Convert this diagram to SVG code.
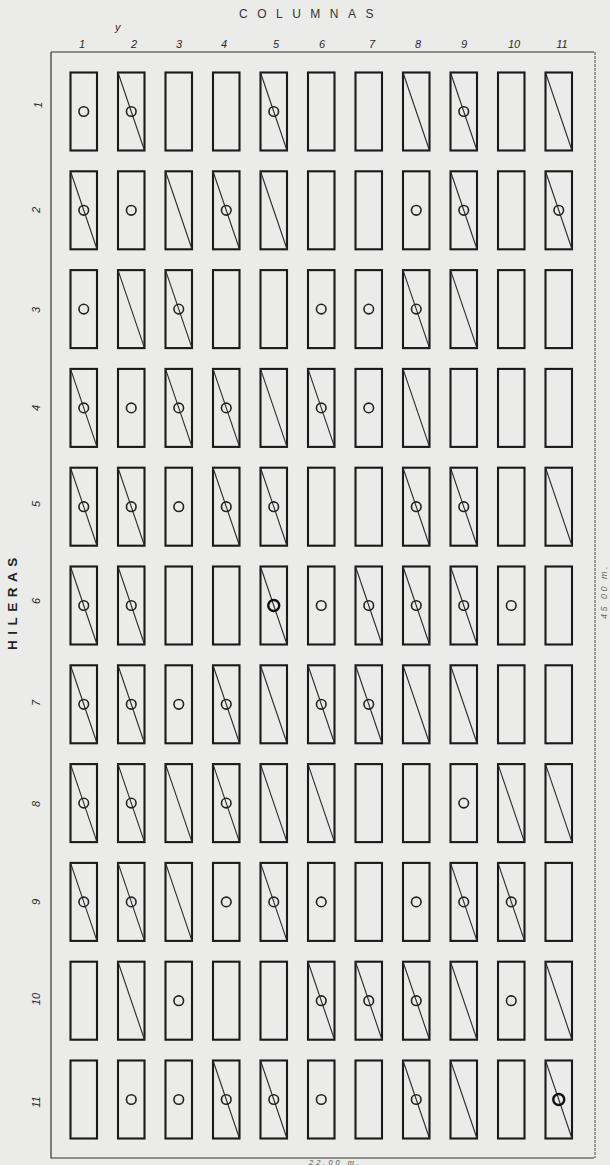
<svg xmlns="http://www.w3.org/2000/svg" xmlns:xlink="http://www.w3.org/1999/xlink" width="610" height="1165" viewBox="0 0 610 1165">
<style>
.box{fill:none;stroke:#1a1a1a;stroke-width:2.1}
.diag{stroke:#2a2a2a;stroke-width:1.1}
.dot{fill:none;stroke:#222;stroke-width:1.6}
.dotb{fill:none;stroke:#111;stroke-width:2.4}
.frame{fill:none;stroke:#333;stroke-width:1.2}
.num{font-family:"Liberation Sans",Arial,sans-serif;font-style:italic;font-size:11px;fill:#2a2a2a}
.title{font-family:"Liberation Sans",Arial,sans-serif;font-size:12px;fill:#333;letter-spacing:9.5px}
.side{font-family:"Liberation Sans",Arial,sans-serif;font-size:13.5px;font-weight:bold;fill:#222;letter-spacing:5.5px}
.dim{font-family:"Liberation Sans",Arial,sans-serif;font-style:italic;font-size:9px;fill:#666;letter-spacing:2.5px}
.dimb{font-family:"Liberation Sans",Arial,sans-serif;font-style:italic;font-size:7.5px;fill:#555;letter-spacing:3px}
</style>
<defs>
<rect id="box" class="box" x="0" y="0" width="26.5" height="78"/>
<line id="diag" class="diag" x1="0" y1="0" x2="26.5" y2="78"/>
<circle id="dot" class="dot" cx="13.25" cy="39" r="4.8"/>
<circle id="dotb" class="dotb" cx="13.25" cy="39" r="5.5"/>
</defs>
<rect x="0" y="0" width="610" height="1165" fill="#ebebea"/>
<g id="labels">
<text class="title" x="239" y="18">COLUMNAS</text>
<text class="num" x="115" y="31" font-size="8">y</text>
<text class="num" x="82" y="48" text-anchor="middle">1</text>
<text class="num" x="134" y="48" text-anchor="middle">2</text>
<text class="num" x="179" y="48" text-anchor="middle">3</text>
<text class="num" x="224" y="48" text-anchor="middle">4</text>
<text class="num" x="276" y="48" text-anchor="middle">5</text>
<text class="num" x="322" y="48" text-anchor="middle">6</text>
<text class="num" x="372" y="48" text-anchor="middle">7</text>
<text class="num" x="418" y="48" text-anchor="middle">8</text>
<text class="num" x="464" y="48" text-anchor="middle">9</text>
<text class="num" x="514" y="48" text-anchor="middle">10</text>
<text class="num" x="562" y="48" text-anchor="middle">11</text>
<text class="side" transform="translate(17,650) rotate(-90)">HILERAS</text>
<text class="num" text-anchor="middle" transform="translate(42,105) rotate(-90)">1</text>
<text class="num" text-anchor="middle" transform="translate(40,210) rotate(-90)">2</text>
<text class="num" text-anchor="middle" transform="translate(40,310) rotate(-90)">3</text>
<text class="num" text-anchor="middle" transform="translate(40,408) rotate(-90)">4</text>
<text class="num" text-anchor="middle" transform="translate(40,504) rotate(-90)">5</text>
<text class="num" text-anchor="middle" transform="translate(40,601) rotate(-90)">6</text>
<text class="num" text-anchor="middle" transform="translate(40,703) rotate(-90)">7</text>
<text class="num" text-anchor="middle" transform="translate(40,804) rotate(-90)">8</text>
<text class="num" text-anchor="middle" transform="translate(40,902) rotate(-90)">9</text>
<text class="num" text-anchor="middle" transform="translate(40,999) rotate(-90)">10</text>
<text class="num" text-anchor="middle" transform="translate(40,1102) rotate(-90)">11</text>
<text class="dim" transform="translate(607,619) rotate(-90)">45 00 m.</text>
<text class="dimb" x="309" y="1164.5">22.00 m.</text>
</g>
<g id="frame">
<path class="frame" d="M51,52 H594 M51,52 V1158 H594"/>
<line x1="595" y1="52" x2="595" y2="1158" stroke="#444" stroke-width="1" stroke-dasharray="3 1"/>
</g>
<g id="r1c1" transform="translate(70.5,72.5)"><use xlink:href="#box"/><use xlink:href="#dot"/></g>
<g id="r1c2" transform="translate(118,72.5)"><use xlink:href="#box"/><use xlink:href="#diag"/><use xlink:href="#dot"/></g>
<g id="r1c3" transform="translate(165.5,72.5)"><use xlink:href="#box"/></g>
<g id="r1c4" transform="translate(213,72.5)"><use xlink:href="#box"/></g>
<g id="r1c5" transform="translate(260.5,72.5)"><use xlink:href="#box"/><use xlink:href="#diag"/><use xlink:href="#dot"/></g>
<g id="r1c6" transform="translate(308,72.5)"><use xlink:href="#box"/></g>
<g id="r1c7" transform="translate(355.5,72.5)"><use xlink:href="#box"/></g>
<g id="r1c8" transform="translate(403,72.5)"><use xlink:href="#box"/><use xlink:href="#diag"/></g>
<g id="r1c9" transform="translate(450.5,72.5)"><use xlink:href="#box"/><use xlink:href="#diag"/><use xlink:href="#dot"/></g>
<g id="r1c10" transform="translate(498,72.5)"><use xlink:href="#box"/></g>
<g id="r1c11" transform="translate(545.5,72.5)"><use xlink:href="#box"/><use xlink:href="#diag"/></g>
<g id="r2c1" transform="translate(70.5,171.3)"><use xlink:href="#box"/><use xlink:href="#diag"/><use xlink:href="#dot"/></g>
<g id="r2c2" transform="translate(118,171.3)"><use xlink:href="#box"/><use xlink:href="#dot"/></g>
<g id="r2c3" transform="translate(165.5,171.3)"><use xlink:href="#box"/><use xlink:href="#diag"/></g>
<g id="r2c4" transform="translate(213,171.3)"><use xlink:href="#box"/><use xlink:href="#diag"/><use xlink:href="#dot"/></g>
<g id="r2c5" transform="translate(260.5,171.3)"><use xlink:href="#box"/><use xlink:href="#diag"/></g>
<g id="r2c6" transform="translate(308,171.3)"><use xlink:href="#box"/></g>
<g id="r2c7" transform="translate(355.5,171.3)"><use xlink:href="#box"/></g>
<g id="r2c8" transform="translate(403,171.3)"><use xlink:href="#box"/><use xlink:href="#dot"/></g>
<g id="r2c9" transform="translate(450.5,171.3)"><use xlink:href="#box"/><use xlink:href="#diag"/><use xlink:href="#dot"/></g>
<g id="r2c10" transform="translate(498,171.3)"><use xlink:href="#box"/></g>
<g id="r2c11" transform="translate(545.5,171.3)"><use xlink:href="#box"/><use xlink:href="#diag"/><use xlink:href="#dot"/></g>
<g id="r3c1" transform="translate(70.5,270.1)"><use xlink:href="#box"/><use xlink:href="#dot"/></g>
<g id="r3c2" transform="translate(118,270.1)"><use xlink:href="#box"/><use xlink:href="#diag"/></g>
<g id="r3c3" transform="translate(165.5,270.1)"><use xlink:href="#box"/><use xlink:href="#diag"/><use xlink:href="#dot"/></g>
<g id="r3c4" transform="translate(213,270.1)"><use xlink:href="#box"/></g>
<g id="r3c5" transform="translate(260.5,270.1)"><use xlink:href="#box"/></g>
<g id="r3c6" transform="translate(308,270.1)"><use xlink:href="#box"/><use xlink:href="#dot"/></g>
<g id="r3c7" transform="translate(355.5,270.1)"><use xlink:href="#box"/><use xlink:href="#dot"/></g>
<g id="r3c8" transform="translate(403,270.1)"><use xlink:href="#box"/><use xlink:href="#diag"/><use xlink:href="#dot"/></g>
<g id="r3c9" transform="translate(450.5,270.1)"><use xlink:href="#box"/><use xlink:href="#diag"/></g>
<g id="r3c10" transform="translate(498,270.1)"><use xlink:href="#box"/></g>
<g id="r3c11" transform="translate(545.5,270.1)"><use xlink:href="#box"/></g>
<g id="r4c1" transform="translate(70.5,368.9)"><use xlink:href="#box"/><use xlink:href="#diag"/><use xlink:href="#dot"/></g>
<g id="r4c2" transform="translate(118,368.9)"><use xlink:href="#box"/><use xlink:href="#dot"/></g>
<g id="r4c3" transform="translate(165.5,368.9)"><use xlink:href="#box"/><use xlink:href="#diag"/><use xlink:href="#dot"/></g>
<g id="r4c4" transform="translate(213,368.9)"><use xlink:href="#box"/><use xlink:href="#diag"/><use xlink:href="#dot"/></g>
<g id="r4c5" transform="translate(260.5,368.9)"><use xlink:href="#box"/><use xlink:href="#diag"/></g>
<g id="r4c6" transform="translate(308,368.9)"><use xlink:href="#box"/><use xlink:href="#diag"/><use xlink:href="#dot"/></g>
<g id="r4c7" transform="translate(355.5,368.9)"><use xlink:href="#box"/><use xlink:href="#dot"/></g>
<g id="r4c8" transform="translate(403,368.9)"><use xlink:href="#box"/><use xlink:href="#diag"/></g>
<g id="r4c9" transform="translate(450.5,368.9)"><use xlink:href="#box"/></g>
<g id="r4c10" transform="translate(498,368.9)"><use xlink:href="#box"/></g>
<g id="r4c11" transform="translate(545.5,368.9)"><use xlink:href="#box"/></g>
<g id="r5c1" transform="translate(70.5,467.7)"><use xlink:href="#box"/><use xlink:href="#diag"/><use xlink:href="#dot"/></g>
<g id="r5c2" transform="translate(118,467.7)"><use xlink:href="#box"/><use xlink:href="#diag"/><use xlink:href="#dot"/></g>
<g id="r5c3" transform="translate(165.5,467.7)"><use xlink:href="#box"/><use xlink:href="#dot"/></g>
<g id="r5c4" transform="translate(213,467.7)"><use xlink:href="#box"/><use xlink:href="#diag"/><use xlink:href="#dot"/></g>
<g id="r5c5" transform="translate(260.5,467.7)"><use xlink:href="#box"/><use xlink:href="#diag"/><use xlink:href="#dot"/></g>
<g id="r5c6" transform="translate(308,467.7)"><use xlink:href="#box"/></g>
<g id="r5c7" transform="translate(355.5,467.7)"><use xlink:href="#box"/></g>
<g id="r5c8" transform="translate(403,467.7)"><use xlink:href="#box"/><use xlink:href="#diag"/><use xlink:href="#dot"/></g>
<g id="r5c9" transform="translate(450.5,467.7)"><use xlink:href="#box"/><use xlink:href="#diag"/><use xlink:href="#dot"/></g>
<g id="r5c10" transform="translate(498,467.7)"><use xlink:href="#box"/></g>
<g id="r5c11" transform="translate(545.5,467.7)"><use xlink:href="#box"/><use xlink:href="#diag"/></g>
<g id="r6c1" transform="translate(70.5,566.5)"><use xlink:href="#box"/><use xlink:href="#diag"/><use xlink:href="#dot"/></g>
<g id="r6c2" transform="translate(118,566.5)"><use xlink:href="#box"/><use xlink:href="#diag"/><use xlink:href="#dot"/></g>
<g id="r6c3" transform="translate(165.5,566.5)"><use xlink:href="#box"/></g>
<g id="r6c4" transform="translate(213,566.5)"><use xlink:href="#box"/></g>
<g id="r6c5" transform="translate(260.5,566.5)"><use xlink:href="#box"/><use xlink:href="#diag"/><use xlink:href="#dotb"/></g>
<g id="r6c6" transform="translate(308,566.5)"><use xlink:href="#box"/><use xlink:href="#dot"/></g>
<g id="r6c7" transform="translate(355.5,566.5)"><use xlink:href="#box"/><use xlink:href="#diag"/><use xlink:href="#dot"/></g>
<g id="r6c8" transform="translate(403,566.5)"><use xlink:href="#box"/><use xlink:href="#diag"/><use xlink:href="#dot"/></g>
<g id="r6c9" transform="translate(450.5,566.5)"><use xlink:href="#box"/><use xlink:href="#diag"/><use xlink:href="#dot"/></g>
<g id="r6c10" transform="translate(498,566.5)"><use xlink:href="#box"/><use xlink:href="#dot"/></g>
<g id="r6c11" transform="translate(545.5,566.5)"><use xlink:href="#box"/></g>
<g id="r7c1" transform="translate(70.5,665.3)"><use xlink:href="#box"/><use xlink:href="#diag"/><use xlink:href="#dot"/></g>
<g id="r7c2" transform="translate(118,665.3)"><use xlink:href="#box"/><use xlink:href="#diag"/><use xlink:href="#dot"/></g>
<g id="r7c3" transform="translate(165.5,665.3)"><use xlink:href="#box"/><use xlink:href="#dot"/></g>
<g id="r7c4" transform="translate(213,665.3)"><use xlink:href="#box"/><use xlink:href="#diag"/><use xlink:href="#dot"/></g>
<g id="r7c5" transform="translate(260.5,665.3)"><use xlink:href="#box"/><use xlink:href="#diag"/></g>
<g id="r7c6" transform="translate(308,665.3)"><use xlink:href="#box"/><use xlink:href="#diag"/><use xlink:href="#dot"/></g>
<g id="r7c7" transform="translate(355.5,665.3)"><use xlink:href="#box"/><use xlink:href="#diag"/><use xlink:href="#dot"/></g>
<g id="r7c8" transform="translate(403,665.3)"><use xlink:href="#box"/><use xlink:href="#diag"/></g>
<g id="r7c9" transform="translate(450.5,665.3)"><use xlink:href="#box"/><use xlink:href="#diag"/></g>
<g id="r7c10" transform="translate(498,665.3)"><use xlink:href="#box"/></g>
<g id="r7c11" transform="translate(545.5,665.3)"><use xlink:href="#box"/></g>
<g id="r8c1" transform="translate(70.5,764.1)"><use xlink:href="#box"/><use xlink:href="#diag"/><use xlink:href="#dot"/></g>
<g id="r8c2" transform="translate(118,764.1)"><use xlink:href="#box"/><use xlink:href="#diag"/><use xlink:href="#dot"/></g>
<g id="r8c3" transform="translate(165.5,764.1)"><use xlink:href="#box"/><use xlink:href="#diag"/></g>
<g id="r8c4" transform="translate(213,764.1)"><use xlink:href="#box"/><use xlink:href="#diag"/><use xlink:href="#dot"/></g>
<g id="r8c5" transform="translate(260.5,764.1)"><use xlink:href="#box"/><use xlink:href="#diag"/></g>
<g id="r8c6" transform="translate(308,764.1)"><use xlink:href="#box"/><use xlink:href="#diag"/></g>
<g id="r8c7" transform="translate(355.5,764.1)"><use xlink:href="#box"/></g>
<g id="r8c8" transform="translate(403,764.1)"><use xlink:href="#box"/></g>
<g id="r8c9" transform="translate(450.5,764.1)"><use xlink:href="#box"/><use xlink:href="#dot"/></g>
<g id="r8c10" transform="translate(498,764.1)"><use xlink:href="#box"/><use xlink:href="#diag"/></g>
<g id="r8c11" transform="translate(545.5,764.1)"><use xlink:href="#box"/><use xlink:href="#diag"/></g>
<g id="r9c1" transform="translate(70.5,862.9)"><use xlink:href="#box"/><use xlink:href="#diag"/><use xlink:href="#dot"/></g>
<g id="r9c2" transform="translate(118,862.9)"><use xlink:href="#box"/><use xlink:href="#diag"/><use xlink:href="#dot"/></g>
<g id="r9c3" transform="translate(165.5,862.9)"><use xlink:href="#box"/><use xlink:href="#diag"/></g>
<g id="r9c4" transform="translate(213,862.9)"><use xlink:href="#box"/><use xlink:href="#dot"/></g>
<g id="r9c5" transform="translate(260.5,862.9)"><use xlink:href="#box"/><use xlink:href="#diag"/><use xlink:href="#dot"/></g>
<g id="r9c6" transform="translate(308,862.9)"><use xlink:href="#box"/><use xlink:href="#dot"/></g>
<g id="r9c7" transform="translate(355.5,862.9)"><use xlink:href="#box"/></g>
<g id="r9c8" transform="translate(403,862.9)"><use xlink:href="#box"/><use xlink:href="#dot"/></g>
<g id="r9c9" transform="translate(450.5,862.9)"><use xlink:href="#box"/><use xlink:href="#diag"/><use xlink:href="#dot"/></g>
<g id="r9c10" transform="translate(498,862.9)"><use xlink:href="#box"/><use xlink:href="#diag"/><use xlink:href="#dot"/></g>
<g id="r9c11" transform="translate(545.5,862.9)"><use xlink:href="#box"/></g>
<g id="r10c1" transform="translate(70.5,961.7)"><use xlink:href="#box"/></g>
<g id="r10c2" transform="translate(118,961.7)"><use xlink:href="#box"/><use xlink:href="#diag"/></g>
<g id="r10c3" transform="translate(165.5,961.7)"><use xlink:href="#box"/><use xlink:href="#dot"/></g>
<g id="r10c4" transform="translate(213,961.7)"><use xlink:href="#box"/></g>
<g id="r10c5" transform="translate(260.5,961.7)"><use xlink:href="#box"/></g>
<g id="r10c6" transform="translate(308,961.7)"><use xlink:href="#box"/><use xlink:href="#diag"/><use xlink:href="#dot"/></g>
<g id="r10c7" transform="translate(355.5,961.7)"><use xlink:href="#box"/><use xlink:href="#diag"/><use xlink:href="#dot"/></g>
<g id="r10c8" transform="translate(403,961.7)"><use xlink:href="#box"/><use xlink:href="#diag"/><use xlink:href="#dot"/></g>
<g id="r10c9" transform="translate(450.5,961.7)"><use xlink:href="#box"/><use xlink:href="#diag"/></g>
<g id="r10c10" transform="translate(498,961.7)"><use xlink:href="#box"/><use xlink:href="#dot"/></g>
<g id="r10c11" transform="translate(545.5,961.7)"><use xlink:href="#box"/><use xlink:href="#diag"/></g>
<g id="r11c1" transform="translate(70.5,1060.5)"><use xlink:href="#box"/></g>
<g id="r11c2" transform="translate(118,1060.5)"><use xlink:href="#box"/><use xlink:href="#dot"/></g>
<g id="r11c3" transform="translate(165.5,1060.5)"><use xlink:href="#box"/><use xlink:href="#dot"/></g>
<g id="r11c4" transform="translate(213,1060.5)"><use xlink:href="#box"/><use xlink:href="#diag"/><use xlink:href="#dot"/></g>
<g id="r11c5" transform="translate(260.5,1060.5)"><use xlink:href="#box"/><use xlink:href="#diag"/><use xlink:href="#dot"/></g>
<g id="r11c6" transform="translate(308,1060.5)"><use xlink:href="#box"/><use xlink:href="#dot"/></g>
<g id="r11c7" transform="translate(355.5,1060.5)"><use xlink:href="#box"/></g>
<g id="r11c8" transform="translate(403,1060.5)"><use xlink:href="#box"/><use xlink:href="#diag"/><use xlink:href="#dot"/></g>
<g id="r11c9" transform="translate(450.5,1060.5)"><use xlink:href="#box"/><use xlink:href="#diag"/></g>
<g id="r11c10" transform="translate(498,1060.5)"><use xlink:href="#box"/></g>
<g id="r11c11" transform="translate(545.5,1060.5)"><use xlink:href="#box"/><use xlink:href="#diag"/><use xlink:href="#dotb"/></g>
<g id="connectors"></g>
</svg>
